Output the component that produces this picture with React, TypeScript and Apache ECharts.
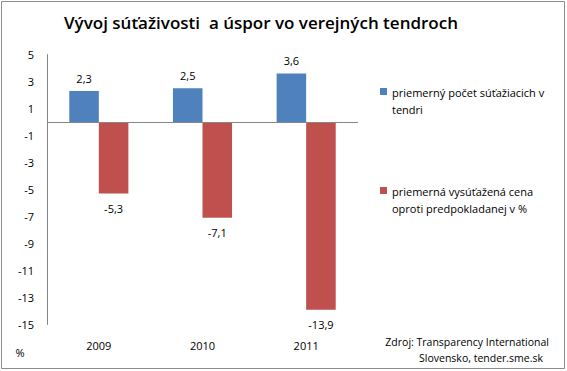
import React, { useEffect, useRef } from "react";
import * as echarts from "echarts";

const title = "Vývoj súťaživosti  a úspor vo verejných tendroch";
const years = ["2009", "2010", "2011"];
const seriesNames = [
  "priemerný počet súťažiacich v\ntendri",
  "priemerná vysúťažená cena\noproti predpokladanej v %",
];
const competitors = [2.3, 2.5, 3.6];
const priceDrop = [-5.3, -7.1, -13.9];
const yTicks = [-15, -13, -11, -9, -7, -5, -3, -1, 1, 3, 5];
const sourceLines = ["Zdroj: Transparency International", "Slovensko, tender.sme.sk"];

const FONT = "'Open Sans', 'Noto Sans', sans-serif";
const LEGEND_ICON = "path://M0,0L7,0L7,7L0,7Z M0,26L0,26";

export default function App() {
  const ref = useRef<HTMLDivElement>(null);
  useEffect(() => {
    if (!ref.current) return;
    const chart = echarts.init(ref.current, undefined, { renderer: "svg" });
    const fmt = (p: any) => String(p.value).replace(".", ",");
    chart.setOption({
      animation: false,
      backgroundColor: "#ffffff",
      textStyle: { fontFamily: FONT },
      grid: { left: 47, right: 209, top: 54.5, bottom: 46.5, containLabel: false },
      legend: {
        orient: "vertical",
        left: 375,
        top: 79,
        itemWidth: 7,
        itemHeight: 26,
        itemGap: 65,
        icon: LEGEND_ICON,
        symbolKeepAspect: false,
        textStyle: { fontSize: 11, color: "#000", lineHeight: 17, fontFamily: FONT },
        data: seriesNames,
      },
      xAxis: {
        type: "category",
        data: years,
        position: "bottom",
        axisLine: { show: false, onZero: false },
        axisTick: { show: false },
        axisLabel: { color: "#000", fontSize: 11, margin: 15, fontFamily: FONT },
        splitLine: { show: false },
      },
      yAxis: {
        type: "value",
        min: -15,
        max: 5,
        axisLine: { show: true, lineStyle: { color: "#868686", width: 1 } },
        axisTick: { show: false, customValues: yTicks },
        splitLine: { show: false },
        axisLabel: {
          customValues: yTicks,
          color: "#000",
          fontSize: 11,
          margin: 13,
          fontFamily: FONT,
        },
      },
      series: [
        {
          name: seriesNames[0],
          type: "bar",
          data: competitors,
          barGap: "0%",
          barCategoryGap: "43%",
          itemStyle: { color: "#4F81BD" },
          label: { show: true, position: "top", distance: 7, color: "#000", fontSize: 11, formatter: fmt, fontFamily: FONT },
          markLine: {
            silent: true,
            symbol: "none",
            label: { show: false },
            lineStyle: { color: "#868686", type: "solid", width: 1 },
            data: [{ yAxis: 0 }],
          },
        },
        {
          name: seriesNames[1],
          type: "bar",
          data: priceDrop,
          barGap: "0%",
          barCategoryGap: "43%",
          itemStyle: { color: "#C0504D" },
          label: { show: true, position: "bottom", distance: 9, color: "#000", fontSize: 11, formatter: fmt, fontFamily: FONT },
        },
      ],
      graphic: [
        {
          type: "rect",
          shape: { x: 1.5, y: 1.5, width: 563, height: 367 },
          style: { fill: "none", stroke: "#8c8c8c", lineWidth: 1 },
          silent: true,
        },
        {
          type: "text",
          x: 261,
          y: 22,
          style: {
            text: title,
            fontSize: 17,
            fontWeight: 600,
            fill: "#000",
            fontFamily: FONT,
            align: "center",
            verticalAlign: "middle",
          },
        },
        {
          type: "text",
          x: 20,
          y: 352,
          style: { text: "%", fontSize: 11, fill: "#000", fontFamily: FONT, align: "center", verticalAlign: "middle" },
        },
        {
          type: "text",
          x: 549,
          y: 342,
          style: { text: sourceLines[0], fontSize: 10.5, fill: "#000", fontFamily: FONT, align: "right", verticalAlign: "middle" },
        },
        {
          type: "text",
          x: 543,
          y: 358,
          style: { text: sourceLines[1], fontSize: 10.5, fill: "#000", fontFamily: FONT, align: "right", verticalAlign: "middle" },
        },
      ],
    });
    return () => chart.dispose();
  }, []);
  return (
    <div
      ref={ref}
      style={{ position: "absolute", left: 0, top: 0, width: 567, height: 371 }}
    />
  );
}
